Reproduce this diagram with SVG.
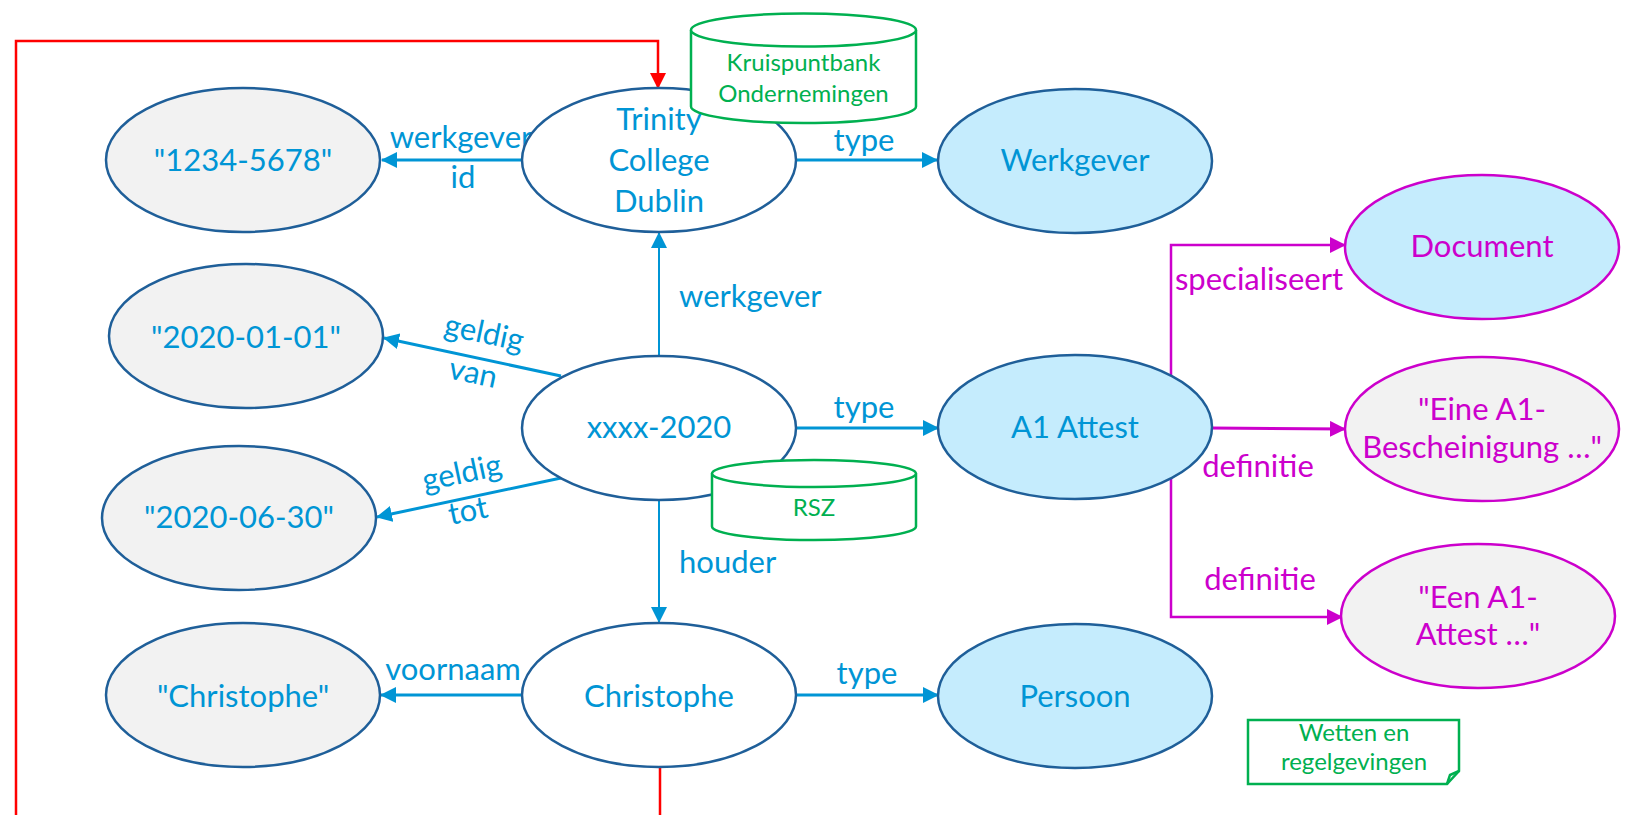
<svg xmlns="http://www.w3.org/2000/svg" width="1629" height="815" viewBox="0 0 1629 815">
<style>
text{font-family:Lato,"Open Sans","Liberation Sans",sans-serif;}
.lbl{font-size:31px;fill:#0095D5;text-anchor:middle;}
.lbls{font-size:31px;fill:#0095D5;text-anchor:start;}
.mlbl{font-size:31px;fill:#CC00CC;text-anchor:middle;}
.nt{font-size:31px;fill:#0095D5;text-anchor:middle;}
.mt{font-size:31px;fill:#CC00CC;text-anchor:middle;}
.gt{font-size:24px;fill:#00B050;text-anchor:middle;}
.lit{fill:#F2F2F2;stroke:#1F5F99;stroke-width:2.5;}
.res{fill:#FFFFFF;stroke:#1F5F99;stroke-width:2.5;}
.cls{fill:#C5ECFD;stroke:#1F5F99;stroke-width:2.5;}
.mcls{fill:#C5ECFD;stroke:#CC00CC;stroke-width:2.5;}
.mlit{fill:#F2F2F2;stroke:#CC00CC;stroke-width:2.5;}
.db{fill:#FFFFFF;stroke:#00B050;stroke-width:2.5;}
.e{fill:none;stroke:#0095D5;stroke-width:3;marker-end:url(#ab);}
.ev{fill:none;stroke:#0095D5;stroke-width:2;marker-end:url(#ab);}
.em{fill:none;stroke:#CC00CC;stroke-width:2.5;marker-end:url(#am);}
.er{fill:none;stroke:#FF0000;stroke-width:2.5;marker-end:url(#ar);}
</style>
<defs>
<marker id="ab" viewBox="0 0 16 16" refX="15" refY="8" markerWidth="16" markerHeight="16" markerUnits="userSpaceOnUse" orient="auto"><path d="M0,0 L16,8 L0,16 z" fill="#0095D5"/></marker>
<marker id="am" viewBox="0 0 16 16" refX="15" refY="8" markerWidth="16" markerHeight="16" markerUnits="userSpaceOnUse" orient="auto"><path d="M0,0 L16,8 L0,16 z" fill="#CC00CC"/></marker>
<marker id="ar" viewBox="0 0 16 16" refX="15" refY="8" markerWidth="16" markerHeight="16" markerUnits="userSpaceOnUse" orient="auto"><path d="M0,0 L16,8 L0,16 z" fill="#FF0000"/></marker>
</defs>
<rect width="1629" height="815" fill="#FFFFFF"/>
<g id="connectors">
<path class="er" d="M660 768 V830 H16 V41 H658 V88"/>
<path class="e" d="M522 160 H382"/>
<path class="e" d="M796 160 H937"/>
<path class="ev" d="M659 356 V233"/>
<path class="e" d="M561 376 L384 338"/>
<path class="e" d="M561 478 L377 517"/>
<path class="e" d="M796 428 H938"/>
<path class="ev" d="M659 499 V622"/>
<path class="e" d="M522 695 H381"/>
<path class="e" d="M796 695 H938"/>
<path class="em" d="M1171 400 V245 H1345"/>
<path class="em" d="M1211 428 L1345 429" style="stroke-width:3"/>
<path class="em" d="M1171 460 V617 H1342"/>
<text class="lbl" x="461" y="148">werkgever</text>
<text class="lbl" x="463" y="188">id</text>
<text class="lbl" x="864" y="151">type</text>
<text class="lbls" x="679" y="307">werkgever</text>
<text class="lbl" transform="translate(482 343) rotate(12)">geldig</text>
<text class="lbl" transform="translate(471 383) rotate(12)">van</text>
<text class="lbl" transform="translate(464 483) rotate(-12)">geldig</text>
<text class="lbl" transform="translate(470 521) rotate(-12)">tot</text>
<text class="lbl" x="864" y="418">type</text>
<text class="lbls" x="679" y="573">houder</text>
<text class="lbl" x="453" y="680">voornaam</text>
<text class="lbl" x="867" y="684">type</text>
<text class="mlbl" x="1259" y="290">specialiseert</text>
<text class="mlbl" x="1258" y="477">definitie</text>
<text class="mlbl" x="1260" y="590">definitie</text>
</g>
<g id="node-1234">
<ellipse class="lit" cx="243" cy="160" rx="137" ry="72"/>
<text class="nt" x="243" y="171">"1234-5678"</text>
</g>
<g id="node-trinity">
<ellipse class="res" cx="659" cy="160" rx="137" ry="72"/>
</g>
<g id="db-kbo">
<path class="db" d="M691 30 V106.5 A112.5 16.5 0 0 0 916 106.5 V30"/>
<ellipse class="db" cx="803.5" cy="30" rx="112.5" ry="16.5"/>
<text class="gt" x="803.5" y="71">Kruispuntbank</text>
<text class="gt" x="803.5" y="102">Ondernemingen</text>
</g>
<g id="node-trinity-label">
<text class="nt" x="659" y="130">Trinity</text>
<text class="nt" x="659" y="171">College</text>
<text class="nt" x="659" y="212">Dublin</text>
</g>
<g id="node-werkgever">
<ellipse class="cls" cx="1075" cy="161" rx="137" ry="72"/>
<text class="nt" x="1075" y="171">Werkgever</text>
</g>
<g id="node-2020-01-01">
<ellipse class="lit" cx="246" cy="336" rx="137" ry="72"/>
<text class="nt" x="246" y="348">"2020-01-01"</text>
</g>
<g id="node-xxxx">
<ellipse class="res" cx="659" cy="428" rx="137" ry="72"/>
<text class="nt" x="659" y="438">xxxx-2020</text>
</g>
<g id="db-rsz">
<path class="db" d="M712 473.5 V526.5 A102 13.5 0 0 0 916 526.5 V473.5"/>
<ellipse class="db" cx="814" cy="473.5" rx="102" ry="13.5"/>
<text class="gt" x="814" y="516">RSZ</text>
</g>
<g id="node-2020-06-30">
<ellipse class="lit" cx="239" cy="518" rx="137" ry="72"/>
<text class="nt" x="239" y="528">"2020-06-30"</text>
</g>
<g id="node-a1">
<ellipse class="cls" cx="1075" cy="427" rx="137" ry="72"/>
<text class="nt" x="1075" y="438">A1 Attest</text>
</g>
<g id="node-document">
<ellipse class="mcls" cx="1482" cy="247" rx="137" ry="72"/>
<text class="mt" x="1482" y="257">Document</text>
</g>
<g id="node-eine">
<ellipse class="mlit" cx="1482" cy="429" rx="137" ry="72"/>
<text class="mt" x="1482" y="420">"Eine A1-</text>
<text class="mt" x="1482" y="458">Bescheinigung …"</text>
</g>
<g id="node-een">
<ellipse class="mlit" cx="1478" cy="616" rx="137" ry="72"/>
<text class="mt" x="1478" y="608">"Een A1-</text>
<text class="mt" x="1478" y="645">Attest …"</text>
</g>
<g id="node-christophe-lit">
<ellipse class="lit" cx="243" cy="695" rx="137" ry="72"/>
<text class="nt" x="243" y="707">"Christophe"</text>
</g>
<g id="node-christophe">
<ellipse class="res" cx="659" cy="695" rx="137" ry="72"/>
<text class="nt" x="659" y="707">Christophe</text>
</g>
<g id="node-persoon">
<ellipse class="cls" cx="1075" cy="696" rx="137" ry="72"/>
<text class="nt" x="1075" y="707">Persoon</text>
</g>
<g id="note-wetten">
<path d="M1248 720 H1459 V771 L1447 784 H1248 Z" fill="#FFFFFF" stroke="#00B050" stroke-width="2.5"/>
<path d="M1447 784 L1450 775 L1459 771" fill="none" stroke="#00B050" stroke-width="2.5"/>
<text class="gt" x="1354" y="741">Wetten en</text>
<text class="gt" x="1354" y="770">regelgevingen</text>
</g>
</svg>
